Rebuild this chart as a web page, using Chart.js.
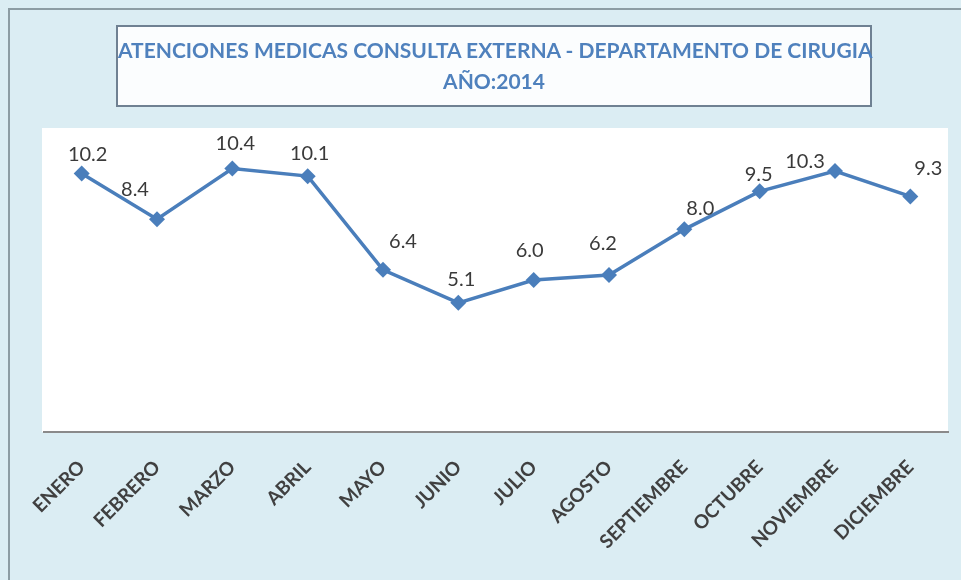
<!DOCTYPE html>
<html>
<head>
<meta charset="utf-8">
<script src="https://cdn.jsdelivr.net/npm/chart.js@4"></script>
<style>
  body { margin: 0; background: #dbedf3; }
  #marco {
    position: relative; width: 961px; height: 580px; overflow: hidden;
    background: #dbedf3;
  }
  #borde {
    position: absolute; left: 8px; top: 8px; right: -5px; bottom: -5px;
    border-left: 2px solid #8c9ca3; border-top: 2px solid #8c9ca3;
  }
  #titulo {
    position: absolute; left: 116px; top: 25px; width: 752px; height: 71px;
    border: 2px solid #6f8192; background: #fbfdfe;
    font-family: Lato, "Open Sans", sans-serif; font-weight: bold;
    color: #4f81bd; text-align: center; font-size: 21px; line-height: 31px;
    padding-top: 7px; box-sizing: content-box;
  }
  #titulo span { display: inline-block; white-space: nowrap; }
  canvas { position: absolute; left: 0; top: 0; }
</style>
</head>
<body>
<div id="marco">
  <div id="borde"></div>
  <canvas id="graficoAtenciones" width="961" height="580"></canvas>
  <div id="titulo"><span>ATENCIONES MEDICAS CONSULTA EXTERNA - DEPARTAMENTO DE CIRUGIA</span><br><span>AÑO:2014</span></div>
</div>
<script>
const meses = ['ENERO', 'FEBRERO', 'MARZO', 'ABRIL', 'MAYO', 'JUNIO', 'JULIO', 'AGOSTO', 'SEPTIEMBRE', 'OCTUBRE', 'NOVIEMBRE', 'DICIEMBRE'];
const atenciones = [10.2, 8.4, 10.4, 10.1, 6.4, 5.1, 6.0, 6.2, 8.0, 9.5, 10.3, 9.3];

// desplazamiento de cada etiqueta respecto a su punto (como en el original)
const desplazX = [6, -22, 3, 2, 20, 3, -4, -6, 16, -1, -30, 18];
const desplazY = [-19, -30, -25, -23, -28, -23, -29, -31, -21, -17, -10, -28];

const fondoArea = {
  id: 'fondoArea',
  beforeDraw(chart) {
    const a = chart.chartArea;
    const ctx = chart.ctx;
    ctx.save();
    ctx.fillStyle = '#ffffff';
    ctx.fillRect(a.left - 2, a.top, a.right - a.left + 2, a.bottom - a.top);
    ctx.restore();
  }
};

const etiquetas = {
  id: 'etiquetas',
  afterDatasetsDraw(chart) {
    const ctx = chart.ctx;
    const puntos = chart.getDatasetMeta(0).data;
    ctx.save();
    ctx.font = '20px Lato, "Open Sans", sans-serif';
    ctx.fillStyle = '#3a3a3a';
    ctx.textAlign = 'center';
    ctx.textBaseline = 'middle';
    puntos.forEach(function (p, i) {
      ctx.fillText(atenciones[i].toFixed(1), p.x + desplazX[i], p.y + desplazY[i]);
    });
    ctx.restore();
  }
};

function crearGrafico() {
  const ctx = document.getElementById('graficoAtenciones').getContext('2d');

  new Chart(ctx, {
    type: 'line',
    data: {
      labels: meses,
      datasets: [{
        data: atenciones,
        borderColor: '#4a7ebb',
        backgroundColor: '#4a7ebb',
        borderWidth: 3.5,
        pointStyle: 'rectRot',
        pointRadius: 8,
        pointBorderWidth: 0,
        tension: 0
      }]
    },
    options: {
      responsive: false,
      animation: false,
      layout: { padding: { left: 44, right: 13, top: 128, bottom: 0 } },
      scales: {
        x: {
          offset: true,
          grid: { display: false },
          border: { display: true, color: '#8a8a8a', width: 2 },
          ticks: {
            color: '#404040',
            font: { family: 'Lato', size: 19, weight: 'bold' },
            minRotation: 45,
            maxRotation: 45,
            padding: 16
          },
          afterFit(scale) { scale.height = 148; }
        },
        y: {
          display: false,
          min: 0,
          max: 12
        }
      },
      plugins: {
        legend: { display: false },
        tooltip: { enabled: false }
      }
    },
    plugins: [fondoArea, etiquetas]
  });
}

crearGrafico();
</script>
</body>
</html>
